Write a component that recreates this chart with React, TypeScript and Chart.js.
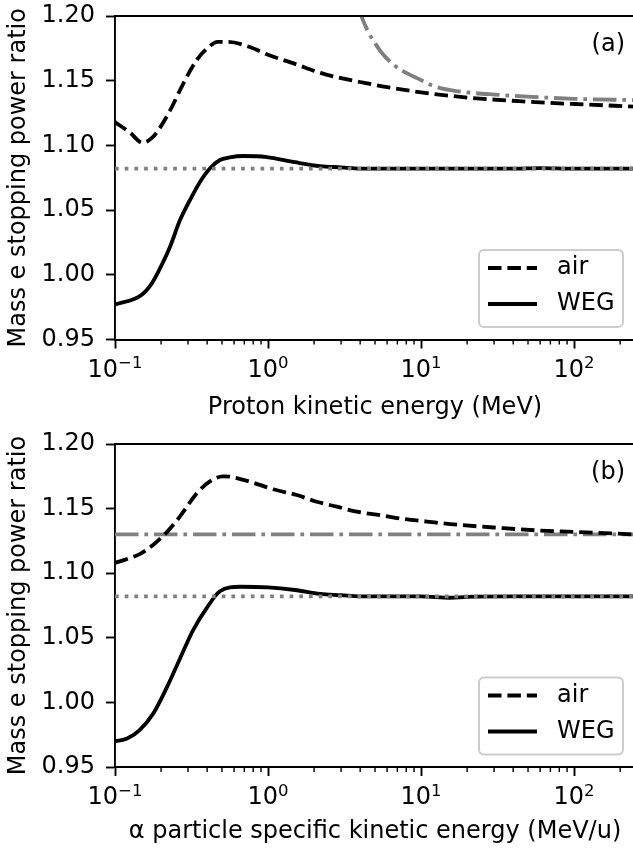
import { useEffect, useRef } from "react";
import { Chart, registerables } from "chart.js";

Chart.register(...registerables);

const FONT_FAMILY = "'DejaVu Sans', 'Liberation Sans', sans-serif";

// Axis ranges and ticks
const X_MIN = 0.1;
const X_MAX = 250;
const X_MAJOR = [0.1, 1, 10, 100];
const X_MAJOR_LABELS = ["10⁻¹", "10⁰", "10¹", "10²"];
const X_MAJOR_BASE = "10";
const X_MAJOR_EXP = ["−1", "0", "1", "2"];
const X_MINOR = [0.2, 0.3, 0.4, 0.5, 0.6, 0.7, 0.8, 0.9, 2, 3, 4, 5, 6, 7, 8, 9, 20, 30, 40, 50, 60, 70, 80, 90, 200];
const Y_MIN = 0.95;
const Y_MAX = 1.2;
const Y_TICKS = [0.95, 1.0, 1.05, 1.1, 1.15, 1.2];
const Y_TICK_LABELS = ["0.95", "1.00", "1.05", "1.10", "1.15", "1.20"];
const Y_TITLE = "Mass e stopping power ratio";
const LEGEND_LABELS = ["air", "WEG"];

// Panel (a): protons
const protonAirE = [0.1, 0.125, 0.152, 0.175, 0.19, 0.229, 0.28, 0.342, 0.4, 0.47, 0.55, 0.76, 1.0, 1.5, 2.2, 3, 4, 6, 10, 20, 46, 100, 250];
const protonAirRatio = [1.118, 1.110, 1.102, 1.106, 1.111, 1.127, 1.148, 1.166, 1.175, 1.180, 1.180, 1.176, 1.170, 1.163, 1.156, 1.152, 1.149, 1.145, 1.141, 1.137, 1.134, 1.132, 1.130];
const protonWegE = [0.1, 0.149, 0.174, 0.202, 0.229, 0.266, 0.309, 0.36, 0.418, 0.485, 0.56, 0.69, 0.98, 1.5, 2.19, 3, 4, 6, 10, 20, 40, 60, 100, 250];
const protonWegRatio = [0.977, 0.9844, 0.9934, 1.0076, 1.0217, 1.0423, 1.0578, 1.0719, 1.0823, 1.0887, 1.0907, 1.0918, 1.0910, 1.087, 1.084, 1.083, 1.082, 1.082, 1.082, 1.082, 1.082, 1.0825, 1.082, 1.082];
const protonDashDotE = [3.9, 4.2, 4.6, 5.0, 5.5, 6.5, 8.0, 9.4, 12, 17, 33, 53, 100, 250];
const protonDashDotRatio = [1.206, 1.196, 1.186, 1.179, 1.172, 1.163, 1.156, 1.152, 1.146, 1.142, 1.139, 1.1375, 1.136, 1.135];
const protonDottedLevel = 1.082;

// Panel (b): alpha particles
const alphaAirE = [0.1, 0.12, 0.146, 0.178, 0.219, 0.266, 0.343, 0.417, 0.508, 0.565, 0.762, 1.08, 1.54, 2.08, 2.81, 3.8, 5.4, 7.66, 10.9, 15.5, 33, 60, 100, 250];
const alphaAirRatio = [1.108, 1.111, 1.115, 1.122, 1.132, 1.144, 1.162, 1.171, 1.175, 1.1747, 1.1708, 1.165, 1.1605, 1.1553, 1.1515, 1.1476, 1.145, 1.142, 1.140, 1.138, 1.135, 1.133, 1.132, 1.130];
const alphaWegE = [0.1, 0.12, 0.146, 0.178, 0.219, 0.266, 0.324, 0.397, 0.485, 0.656, 1.0, 1.5, 2.19, 3, 4, 6, 10, 15.5, 20, 40, 100, 250];
const alphaWegRatio = [0.970, 0.972, 0.979, 0.9915, 1.012, 1.034, 1.056, 1.073, 1.086, 1.0895, 1.089, 1.087, 1.084, 1.083, 1.082, 1.082, 1.082, 1.081, 1.0817, 1.082, 1.082, 1.082];
const alphaDashDotE = [0.1, 250];
const alphaDashDotRatio = [1.130, 1.130];
const alphaDottedLevel = 1.082;

const CANVAS_W = 640;
const CANVAS_H = 425;

type Panel = {
  airE: number[];
  airR: number[];
  wegE: number[];
  wegR: number[];
  ddE: number[];
  ddR: number[];
  dotLevel: number;
  tag: string;
  xTitle: string;
  top: number;
  xHeight: number;
  titlePad: number;
};

const panels: Panel[] = [
  {
    airE: protonAirE, airR: protonAirRatio, wegE: protonWegE, wegR: protonWegRatio,
    ddE: protonDashDotE, ddR: protonDashDotRatio, dotLevel: protonDottedLevel,
    tag: "(a)", xTitle: "Proton kinetic energy (MeV)", top: 16, xHeight: 85.5, titlePad: 2.6,
  },
  {
    airE: alphaAirE, airR: alphaAirRatio, wegE: alphaWegE, wegR: alphaWegRatio,
    ddE: alphaDashDotE, ddR: alphaDashDotRatio, dotLevel: alphaDottedLevel,
    tag: "(b)", xTitle: "α particle specific kinetic energy (MeV/u)", top: 19, xHeight: 83, titlePad: 3.6,
  },
];

const pts = (xs: number[], ys: number[]) => xs.map((x, i) => ({ x, y: ys[i] }));

const LW = 3.8;
const DASHED = [13.5, 5.9];
const DASHDOT = [23.5, 5.9, 3.7, 5.9];
const DOTTED = [3.7, 6.0];

function roundRectPath(ctx: CanvasRenderingContext2D, x: number, y: number, w: number, h: number, r: number) {
  ctx.beginPath();
  ctx.moveTo(x + r, y);
  ctx.arcTo(x + w, y, x + w, y + h, r);
  ctx.arcTo(x + w, y + h, x, y + h, r);
  ctx.arcTo(x, y + h, x, y, r);
  ctx.arcTo(x, y, x + w, y, r);
  ctx.closePath();
}

function makeDecor(tag: string) {
  return {
    id: "decor",
    afterDraw(chart: any) {
      const { ctx, chartArea: a, scales } = chart;
      const xs = scales.x;
      ctx.save();
      // top and right spines
      ctx.strokeStyle = "#000";
      ctx.lineWidth = 1.9;
      ctx.beginPath();
      ctx.moveTo(a.left, a.top);
      ctx.lineTo(a.right, a.top);
      ctx.lineTo(a.right, a.bottom);
      ctx.stroke();
      // minor x ticks
      ctx.lineWidth = 1.4;
      ctx.beginPath();
      for (const v of X_MINOR) {
        const px = xs.getPixelForValue(v);
        if (px < a.left || px > a.right) continue;
        ctx.moveTo(px, a.bottom);
        ctx.lineTo(px, a.bottom + 5);
      }
      ctx.stroke();
      // x tick labels with superscript exponents (mathtext style)
      ctx.fillStyle = "#000";
      ctx.textBaseline = "alphabetic";
      ctx.textAlign = "left";
      const baseFont = `24px ${FONT_FAMILY}`;
      const expFont = `16.5px ${FONT_FAMILY}`;
      X_MAJOR.forEach((v, i) => {
        const px = xs.getPixelForValue(v);
        ctx.font = baseFont;
        const w1 = ctx.measureText(X_MAJOR_BASE).width;
        ctx.font = expFont;
        const w2 = ctx.measureText(X_MAJOR_EXP[i]).width;
        const x0 = px - (w1 + w2) / 2;
        const by = a.bottom + 37.2;
        ctx.font = baseFont;
        ctx.fillText(X_MAJOR_BASE, x0, by);
        ctx.font = expFont;
        ctx.fillText(X_MAJOR_EXP[i], x0 + w1, by - 8.6);
      });
      // legend
      const bx = a.right - 156;
      const by = a.bottom - 89.5;
      roundRectPath(ctx, bx, by, 144, 77, 5);
      ctx.fillStyle = "rgba(255,255,255,0.8)";
      ctx.fill();
      ctx.strokeStyle = "#cccccc";
      ctx.lineWidth = 2;
      ctx.stroke();
      const dashes = [DASHED, []];
      ctx.font = `24px ${FONT_FAMILY}`;
      ctx.textBaseline = "middle";
      ctx.textAlign = "left";
      LEGEND_LABELS.forEach((lab, i) => {
        const yy = a.bottom - 71.5 + i * 36;
        ctx.beginPath();
        ctx.setLineDash(dashes[i]);
        ctx.strokeStyle = "#000";
        ctx.lineWidth = LW;
        ctx.moveTo(a.right - 147, yy);
        ctx.lineTo(a.right - 98, yy);
        ctx.stroke();
        ctx.setLineDash([]);
        ctx.fillStyle = "#000";
        ctx.fillText(lab, a.right - 78, yy);
      });
      // panel tag
      ctx.textAlign = "right";
      ctx.fillText(tag, a.right - 10, a.top + 29);
      ctx.restore();
    },
  };
}

function PanelChart({ p }: { p: Panel }) {
  const ref = useRef<HTMLCanvasElement | null>(null);
  useEffect(() => {
    if (!ref.current) return;
    const font = { family: FONT_FAMILY, size: 24 };
    const chart = new Chart(ref.current, {
      type: "line",
      data: {
        datasets: [
          {
            label: "dotted",
            data: pts([X_MIN, X_MAX], [p.dotLevel, p.dotLevel]),
            borderColor: "#808080",
            borderWidth: LW,
            borderDash: DOTTED,
            pointRadius: 0,
            order: 0,
          },
          {
            label: "WEG",
            data: pts(p.wegE, p.wegR),
            borderColor: "#000",
            borderWidth: LW,
            pointRadius: 0,
            cubicInterpolationMode: "monotone",
            order: 1,
          },
          {
            label: "air",
            data: pts(p.airE, p.airR),
            borderColor: "#000",
            borderWidth: LW,
            borderDash: DASHED,
            pointRadius: 0,
            cubicInterpolationMode: "monotone",
            order: 2,
          },
          {
            label: "dashdot",
            data: pts(p.ddE, p.ddR),
            borderColor: "#808080",
            borderWidth: LW,
            borderDash: DASHDOT,
            pointRadius: 0,
            cubicInterpolationMode: "monotone",
            order: 3,
          },
        ],
      } as any,
      options: {
        animation: false,
        responsive: false,
        events: [],
        layout: { padding: { top: p.top, right: CANVAS_W - 635, left: 0, bottom: 0 } },
        plugins: { legend: { display: false }, tooltip: { enabled: false } },
        scales: {
          x: {
            type: "logarithmic",
            min: X_MIN,
            max: X_MAX,
            afterBuildTicks: (s: any) => {
              s.ticks = X_MAJOR.map((v) => ({ value: v, major: true }));
            },
            ticks: {
              callback: (_v: any, i: number) => X_MAJOR_LABELS[i],
              font,
              color: "rgba(0,0,0,0)",
              padding: 8,
              maxRotation: 0,
              autoSkip: false,
            },
            grid: {
              display: true,
              drawOnChartArea: false,
              drawTicks: true,
              tickLength: 9,
              tickWidth: 1.9,
              tickColor: "#000",
            },
            border: { display: true, color: "#000", width: 1.9 },
            title: {
              display: true,
              text: p.xTitle,
              font,
              color: "#000",
              padding: { top: 0, bottom: p.titlePad },
            },
            afterFit: (s: any) => {
              s.height = p.xHeight;
              s.paddingLeft = 0;
              s.paddingRight = 0;
            },
          },
          y: {
            type: "linear",
            min: Y_MIN,
            max: Y_MAX,
            afterBuildTicks: (s: any) => {
              s.ticks = Y_TICKS.map((v) => ({ value: v }));
            },
            ticks: {
              callback: (_v: any, i: number) => Y_TICK_LABELS[i],
              font,
              color: "#000",
              padding: 11,
              autoSkip: false,
            },
            grid: {
              display: true,
              drawOnChartArea: false,
              drawTicks: true,
              tickLength: 9,
              tickWidth: 1.9,
              tickColor: "#000",
            },
            border: { display: true, color: "#000", width: 1.9 },
            title: {
              display: true,
              text: Y_TITLE,
              font,
              color: "#000",
              padding: { top: 4, bottom: 0 },
            },
            afterFit: (s: any) => {
              s.width = 115;
              s.paddingTop = 0;
              s.paddingBottom = 0;
            },
          },
        },
      } as any,
      plugins: [makeDecor(p.tag)],
    });
    return () => chart.destroy();
  }, [p]);
  return (
    <div style={{ width: CANVAS_W, height: CANVAS_H }}>
      <canvas ref={ref} width={CANVAS_W} height={CANVAS_H} style={{ display: "block" }} />
    </div>
  );
}

export default function App() {
  return (
    <div
      style={{
        position: "absolute",
        left: 0,
        top: 0,
        width: 633,
        height: 850,
        overflow: "hidden",
        background: "#fff",
      }}
    >
      {panels.map((p, i) => (
        <PanelChart key={i} p={p} />
      ))}
    </div>
  );
}
